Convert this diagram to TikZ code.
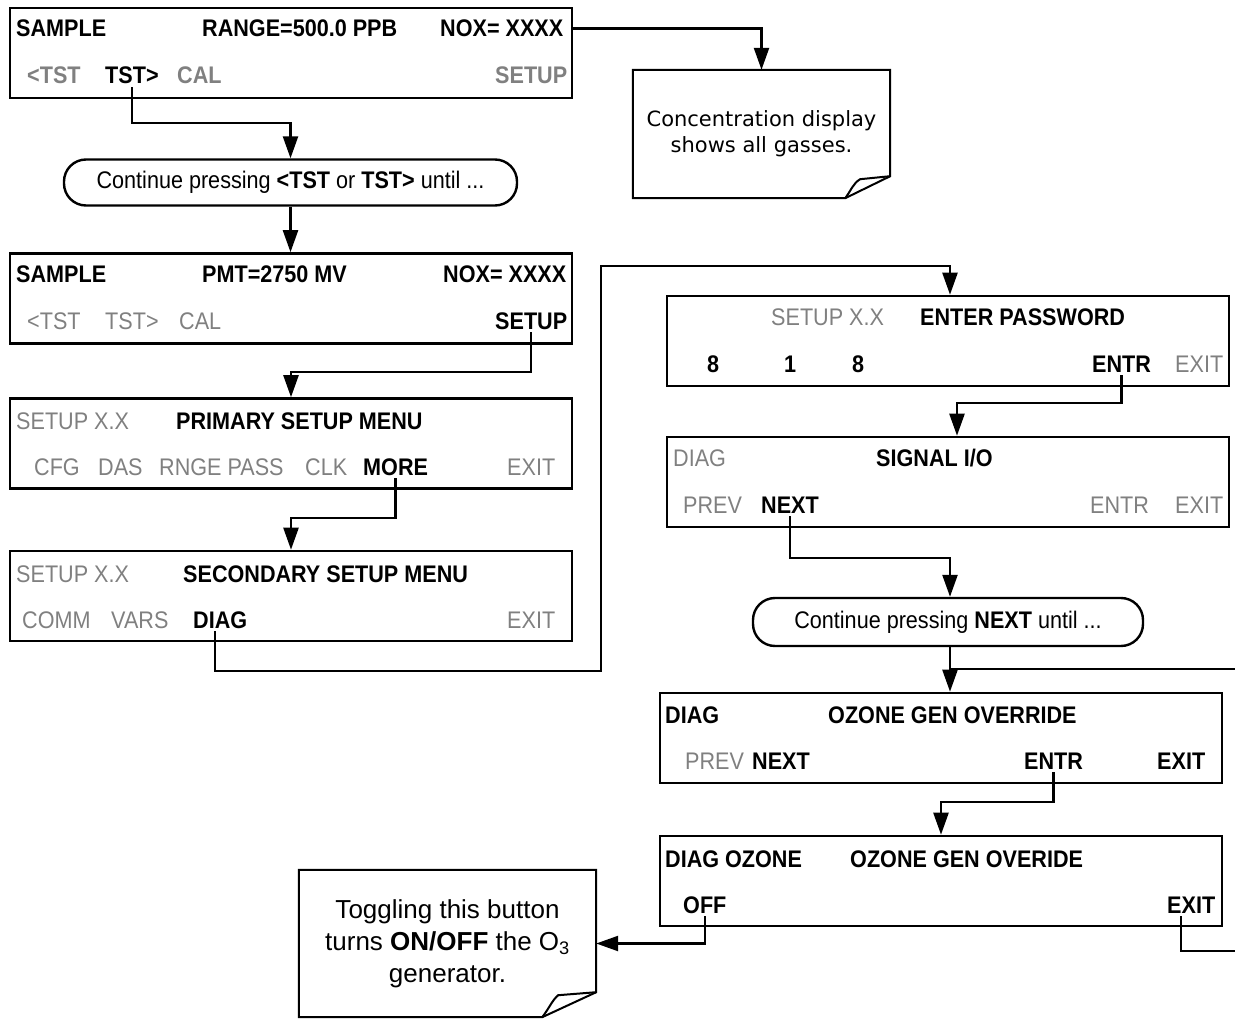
\documentclass[tikz,border=0pt]{standalone}
\usepackage{fontspec}
\setmainfont{Liberation Sans}
\newfontfamily\lcdfont{Liberation Sans}[FakeStretch=0.9]
\newfontfamily\notefont{DejaVu Sans}
\usepackage{tikz}
\usetikzlibrary{arrows.meta,calc}
\definecolor{keygray}{gray}{0.5}

\begin{document}
\begin{tikzpicture}[x=1pt, y=-1pt,
    every node/.style={font=\lcdfont\fontsize{24}{28}\selectfont},
    scr/.style={draw, line width=2.6pt, minimum width=562pt, minimum height=90pt, inner sep=0pt},
    pill/.style={draw, line width=2.4pt, rounded corners=22pt, minimum height=46pt, inner sep=0pt},
    btn/.style={anchor=base west, inner sep=0pt, text depth=0pt},
    btndim/.style={btn, text=keygray},
    wire/.style={line width=2.4pt},
    arr/.style={wire, -{Triangle[length=22pt,width=15pt]}},
    note/.style={inner sep=0pt, align=center}]
    \useasboundingbox (0,0) rectangle (1235,1019);

    % left column of screens
    \node[scr] (scrA) at (291,53) {};
    \node[btn] (aSample) at (16,37) {\bfseries SAMPLE};
    \node[btn] (aRange) at (202,37) {\bfseries RANGE=500.0 PPB};
    \node[btn] (aNox) at (440,37) {\bfseries NOX= XXXX};
    \node[btndim] (aTstL) at (27,84) {\bfseries <TST};
    \node[btn] (aTst) at (105,84) {\bfseries TST>};
    \node[btndim] (aCal) at (177,84) {\bfseries CAL};
    \node[btndim] (aSetup) at (495,84) {\bfseries SETUP};

    \node[pill, minimum width=453pt] (contA) at (290.5,182.5)
        {Continue pressing \textbf{<TST} or \textbf{TST>} until ...};

    \node[scr] (scrB) at (291,298.5) {};
    \node[btn] (bSample) at (16,283) {\bfseries SAMPLE};
    \node[btn] (bPmt) at (202,283) {\bfseries PMT=2750 MV};
    \node[btn] (bNox) at (443,283) {\bfseries NOX= XXXX};
    \node[btndim] (bTstL) at (27,329) {<TST};
    \node[btndim] (bTstR) at (105,329) {TST>};
    \node[btndim] (bCal) at (179,329) {CAL};
    \node[btn] (bSetup) at (495,329) {\bfseries SETUP};

    \node[scr] (scrC) at (291,443.5) {};
    \node[btndim] (cVer) at (16,429) {SETUP X.X};
    \node[btn] (cTitle) at (176,429) {\bfseries PRIMARY SETUP MENU};
    \node[btndim] (cCfg) at (34,475) {CFG};
    \node[btndim] (cDas) at (98,475) {DAS};
    \node[btndim] (cRnge) at (159,475) {RNGE PASS};
    \node[btndim] (cClk) at (305,475) {CLK};
    \node[btn] (cMore) at (363,475) {\bfseries MORE};
    \node[btndim] (cExit) at (507,475) {EXIT};

    \node[scr] (scrD) at (291,596) {};
    \node[btndim] (dVer) at (16,582) {SETUP X.X};
    \node[btn] (dTitle) at (183,582) {\bfseries SECONDARY SETUP MENU};
    \node[btndim] (dComm) at (22,628) {COMM};
    \node[btndim] (dVars) at (111,628) {VARS};
    \node[btn] (dDiag) at (193,628) {\bfseries DIAG};
    \node[btndim] (dExit) at (507,628) {EXIT};

    % right column of screens
    \node[scr] (scrE) at (948,341) {};
    \node[btndim] (eVer) at (771,326) {SETUP X.X};
    \node[btn] (eTitle) at (920,326) {\bfseries ENTER PASSWORD};
    \node[btn] (eOne) at (707,372) {\bfseries 8};
    \node[btn] (eTwo) at (784,372) {\bfseries 1};
    \node[btn] (eThree) at (852,372) {\bfseries 8};
    \node[btn] (eEntr) at (1092,372) {\bfseries ENTR};
    \node[btndim] (eExit) at (1175,372) {EXIT};

    \node[scr] (scrF) at (948,482) {};
    \node[btndim] (fDiag) at (673,466) {DIAG};
    \node[btn] (fTitle) at (876,466) {\bfseries SIGNAL I/O};
    \node[btndim] (fPrev) at (683,513) {PREV};
    \node[btn] (fNext) at (761,513) {\bfseries NEXT};
    \node[btndim] (fEntr) at (1090,513) {ENTR};
    \node[btndim] (fExit) at (1175,513) {EXIT};

    \node[pill, minimum width=390pt, minimum height=48pt] (contB) at (948,622)
        {Continue pressing \textbf{NEXT} until ...};

    \node[scr] (scrG) at (941,738) {};
    \node[btn] (gDiag) at (665,723) {\bfseries DIAG};
    \node[btn] (gTitle) at (828,723) {\bfseries OZONE GEN OVERRIDE};
    \node[btndim] (gPrev) at (685,769) {PREV};
    \node[btn] (gNext) at (752,769) {\bfseries NEXT};
    \node[btn] (gEntr) at (1024,769) {\bfseries ENTR};
    \node[btn] (gExit) at (1157,769) {\bfseries EXIT};

    \node[scr] (scrH) at (941,881) {};
    \node[btn] (hDiag) at (665,867) {\bfseries DIAG OZONE};
    \node[btn] (hTitle) at (850,867) {\bfseries OZONE GEN OVERIDE};
    \node[btn] (hOff) at (683,913) {\bfseries OFF};
    \node[btn] (hExit) at (1167,913) {\bfseries EXIT};

    % callouts with a folded corner
    \node[note, minimum width=257pt, minimum height=128pt,
          font=\notefont\fontsize{21}{26}\selectfont] (noteA) at (761.5,134)
        {Concentration display\\shows all gasses.};
    \draw[line width=2pt] (noteA.north west) -- (noteA.north east)
        -- ($(noteA.south east)+(0,-22)$) -- ($(noteA.south east)+(-45,0)$)
        -- (noteA.south west) -- cycle;
    \draw[line width=2pt] ($(noteA.south east)+(-45,0)$)
        .. controls ($(noteA.south east)+(-39,-8)$) and ($(noteA.south east)+(-37,-15)$)
        .. ($(noteA.south east)+(-30,-19)$) -- ($(noteA.south east)+(0,-22)$);

    \node[note, minimum width=297pt, minimum height=147pt,
          font=\rmfamily\fontsize{26}{32}\selectfont] (noteB) at (447.5,943.5)
        {Toggling this button\\turns \textbf{ON/OFF} the O\textsubscript{3}\\generator.};
    \draw[line width=2pt] (noteB.north west) -- (noteB.north east)
        -- ($(noteB.south east)+(0,-25)$) -- ($(noteB.south east)+(-54,0)$)
        -- (noteB.south west) -- cycle;
    \draw[line width=2pt] ($(noteB.south east)+(-54,0)$)
        .. controls ($(noteB.south east)+(-47,-9)$) and ($(noteB.south east)+(-44,-17)$)
        .. ($(noteB.south east)+(-38,-22)$) -- ($(noteB.south east)+(0,-25)$);

    % connectors
    \draw[arr] (scrA.east |- aNox) -| (noteA.north);
    \draw[arr] ([yshift=-3pt]aTst.south) -- ++(0,36) -| (contA.north);
    \draw[arr] (contA.south) -- (contA.south |- scrB.north);
    \draw[arr] ([yshift=-3pt]bSetup.south) -- ++(0,40) -| (scrC.north);
    \draw[arr] ([yshift=-3pt]cMore.south) -- ++(0,40) -| (scrD.north);
    \coordinate (busX) at (601,266);
    \draw[arr] ([xshift=-5pt,yshift=-3pt]dDiag.south) -- ++(0,40) -| (busX) -| ($(scrE.north)+(2,0)$);
    \draw[arr] ([yshift=-3pt]eEntr.south) -- ++(0,28) -| ($(scrF.north)+(9,0)$);
    \draw[arr] ([yshift=-3pt]fNext.south) -- ++(0,42) -| ($(contB.north)+(2,0)$);
    \draw[arr] ($(contB.south)+(2,0)$) -- ($(contB.south |- scrG.north)+(2,0)$);
    \coordinate (loopG) at (1236,669);
    \draw[wire] (loopG) -- ($(loopG -| contB.south)+(2,0)$);
    \draw[arr] ([yshift=-3pt]gEntr.south) -- ++(0,30) -| (scrH.north);
    \draw[arr] ([yshift=-3pt]hOff.south) |- (noteB.east);
    \coordinate (loopH) at (1236,951);
    \draw[wire] ([xshift=-10pt,yshift=-3pt]hExit.south) |- (loopH);
\end{tikzpicture}
\end{document}
